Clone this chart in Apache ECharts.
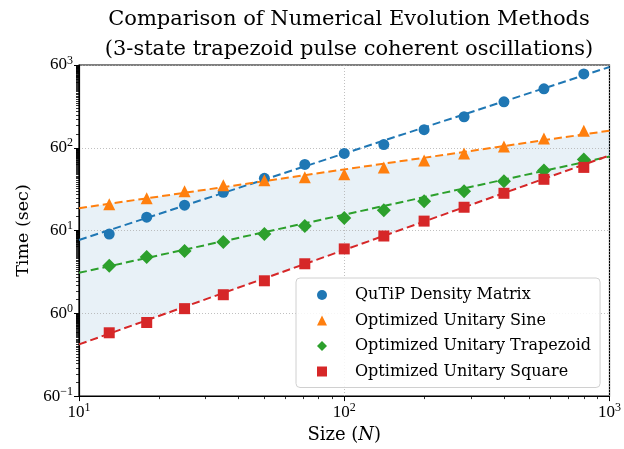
<!DOCTYPE html>
<html>
<head>
<meta charset="utf-8">
<script src="https://cdn.jsdelivr.net/npm/echarts@6/dist/echarts.min.js"></script>
<style>
  html, body { margin: 0; padding: 0; background: #fff; }
  #myChart { width: 624px; height: 449px; }
</style>
</head>
<body>
<div id="myChart"></div>
<script>
// data
var sizes = [13, 18, 25, 35, 50, 71, 100, 141, 200, 283, 400, 566, 800];
var qutip = [50.5, 116, 210, 398, 794, 1580, 2715, 4225, 8820, 16700, 35000, 66400, 138700];
var sine = [221, 296, 419, 563, 720, 835, 967, 1364, 1925, 2715, 3830, 5670, 8400];
var trapezoid = [10.5, 16.3, 21.9, 34.1, 50.5, 74.8, 111, 164, 256, 419, 686, 1177, 2020];
var square = [0.382, 0.635, 1.26, 2.51, 5.0, 11.6, 24.2, 45.8, 95.7, 190, 379, 757, 1364];

// fitted power laws, values at N = 10 and N = 1000
var fitN = [10, 1000];
var qutipFit = [37.6, 196000];
var sineFit = [181, 8400];
var trapezoidFit = [7.41, 2340];
var squareFit = [0.215, 2460];

var xMajor = [10, 100, 1000];
var xMinor = [20, 30, 40, 50, 60, 70, 80, 90, 200, 300, 400, 500, 600, 700, 800, 900];
var yMajor = [1 / 60, 1, 60, 3600, 216000];
var yMinor = [];
yMajor.slice(0, 4).forEach(function (p) {
	for (var k = 2; k < 60; k++) yMinor.push(p * k);
});

var names = ['QuTiP Density Matrix', 'Optimized Unitary Sine', 'Optimized Unitary Trapezoid', 'Optimized Unitary Square'];
var colors = ['#1f77b4', '#ff7f0e', '#2ca02c', '#d62728'];

var serif = 'DejaVu Serif';
var numFont = 'Liberation Serif';

function pair(xs, ys) {
	return xs.map(function (x, i) { return [x, ys[i]]; });
}

function powLabel(base) {
	return function (value) {
		var e = Math.round(Math.log(value) / Math.log(base));
		var s = e < 0 ? '\u2212' + (-e) : '' + e;
		return '{b|' + base + '}{s|' + s + '}';
	};
}

var labelRich = {
	b: { fontFamily: numFont, fontSize: 17, color: '#000' },
	s: { fontFamily: numFont, fontSize: 12, color: '#000', padding: [0, 0, 9, 0] }
};

var myChart = echarts.init(document.getElementById('myChart'));

function fitLine(name, data, color) {
	return {
		name: name,
		type: 'line',
		data: data,
		symbol: 'none',
		silent: true,
		z: 2,
		lineStyle: { color: color, width: 2, type: [8, 4] }
	};
}

function points(name, data, color, symbol, size) {
	return {
		name: name,
		type: 'scatter',
		data: data,
		symbol: symbol,
		symbolSize: size,
		z: 3,
		itemStyle: { color: color, opacity: 1 }
	};
}

var option = {
	animation: false,
	title: {
		text: 'Comparison of Numerical Evolution Methods\n(3-state trapezoid pulse coherent oscillations)',
		left: 344,
		textAlign: 'center',
		top: 0,
		textStyle: { fontFamily: serif, fontWeight: 'normal', fontSize: 21, lineHeight: 30, color: '#000' }
	},
	grid: {
		left: 79, right: 12, top: 65, bottom: 51,
		show: true, borderColor: '#000', borderWidth: 1.2, backgroundColor: 'transparent'
	},
	legend: {
		data: names,
		orient: 'vertical',
		left: 296,
		top: 278,
		padding: [9, 9, 8, 21],
		itemWidth: 10,
		itemHeight: 10,
		itemGap: 9.5,
		backgroundColor: 'rgba(255,255,255,0.85)',
		borderColor: '#d0d0d0',
		borderWidth: 1,
		borderRadius: 4,
		formatter: '{a|{name}}',
		textStyle: {
			rich: { a: { fontFamily: serif, fontSize: 16, lineHeight: 16, color: '#000', padding: [0, 0, 0, 23] } }
		}
	},
	xAxis: [{
		type: 'log',
		logBase: 10,
		min: 10,
		max: 1000,
		z: 1,
		name: '{t|Size (}{i|N}{t|)}',
		nameLocation: 'middle',
		nameGap: 28,
		nameTextStyle: {
			rich: {
				t: { fontFamily: serif, fontSize: 18, color: '#000' },
				i: { fontFamily: serif, fontSize: 18, fontStyle: 'italic', color: '#000' }
			}
		},
		axisLine: { show: true, lineStyle: { color: '#000', width: 1.2 } },
		axisTick: { show: true, inside: false, length: 5, lineStyle: { color: '#000' }, customValues: xMajor },
		axisLabel: { margin: 6, formatter: powLabel(10), rich: labelRich, customValues: xMajor },
		splitLine: { show: true, lineStyle: { color: '#b0b0b0', type: [1, 2], width: 0.8 } },
		minorTick: { show: false }
	}, {
		type: 'log',
		logBase: 10,
		min: 10,
		max: 1000,
		position: 'bottom',
		axisLine: { show: false },
		axisTick: { show: true, length: 3, lineStyle: { color: '#000', width: 0.8 }, customValues: xMinor },
		axisLabel: { show: false },
		splitLine: { show: false }
	}],
	yAxis: [{
		type: 'log',
		logBase: 60,
		min: 1 / 60,
		max: 216000,
		z: 1,
		name: 'Time (sec)',
		nameLocation: 'middle',
		nameGap: 46,
		nameRotate: 90,
		nameTextStyle: { fontFamily: serif, fontSize: 17.5, color: '#000' },
		axisLine: { show: true, lineStyle: { color: '#000', width: 1.2 } },
		axisTick: { show: true, inside: false, length: 5, lineStyle: { color: '#000' }, customValues: yMajor },
		axisLabel: { margin: 6, formatter: powLabel(60), rich: labelRich, customValues: yMajor },
		splitLine: { show: true, lineStyle: { color: '#b0b0b0', type: [1, 2], width: 0.8 } },
		minorTick: { show: false }
	}, {
		type: 'log',
		logBase: 60,
		min: 1 / 60,
		max: 216000,
		position: 'left',
		axisLine: { show: false },
		axisTick: { show: true, length: 3, lineStyle: { color: '#000', width: 0.8 }, customValues: yMinor },
		axisLabel: { show: false },
		splitLine: { show: false }
	}],
	series: [
		{
			name: 'band',
			type: 'custom',
			silent: true,
			z: 0,
			data: [[10, 1]],
			renderItem: function (params, api) {
				var pts = [];
				fitN.forEach(function (n, i) { pts.push(api.coord([n, sineFit[i]])); });
				for (var i = fitN.length - 1; i >= 0; i--) pts.push(api.coord([fitN[i], squareFit[i]]));
				return {
					type: 'polygon',
					shape: { points: pts },
					style: { fill: 'rgba(31,119,180,0.1)', stroke: null }
				};
			}
		},
		fitLine('fit0', pair(fitN, qutipFit), colors[0]),
		fitLine('fit1', pair(fitN, sineFit), colors[1]),
		fitLine('fit2', pair(fitN, trapezoidFit), colors[2]),
		fitLine('fit3', pair(fitN, squareFit), colors[3]),
		points(names[0], pair(sizes, qutip), colors[0], 'circle', 11),
		points(names[1], pair(sizes, sine), colors[1], 'triangle', 12),
		points(names[2], pair(sizes, trapezoid), colors[2], 'diamond', 14),
		points(names[3], pair(sizes, square), colors[3], 'rect', 11)
	]
};

myChart.setOption(option);
</script>
</body>
</html>
